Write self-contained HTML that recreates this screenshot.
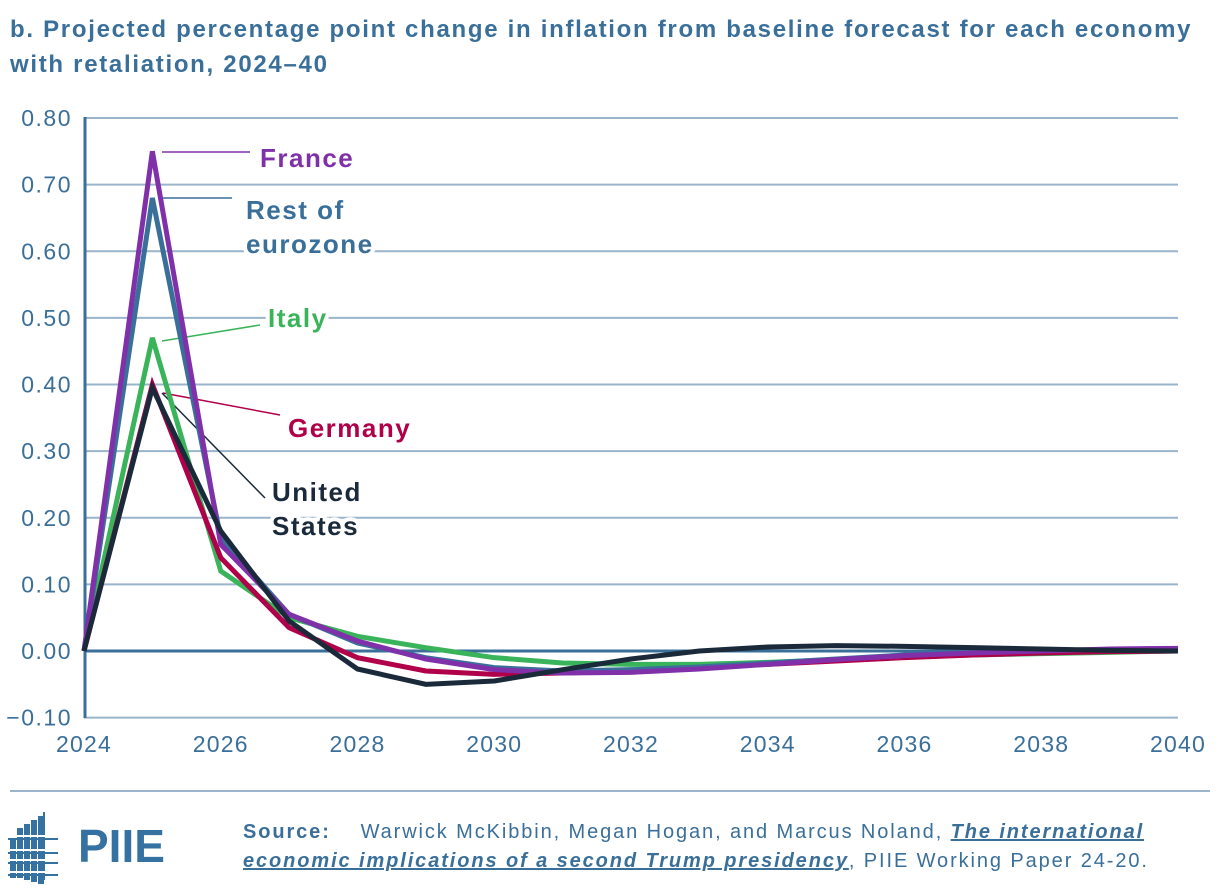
<!DOCTYPE html>
<html><head><meta charset="utf-8"><style>
body{margin:0;background:#fff;width:1220px;height:888px;overflow:hidden;font-family:"Liberation Sans",sans-serif}
#title{position:absolute;left:10px;top:12px;font-size:24px;letter-spacing:1.7px;font-weight:bold;color:#3a6f9a;line-height:35px;white-space:nowrap}
#src{position:absolute;left:243px;top:818px;font-size:20px;letter-spacing:1.9px;color:#3a6f9a;line-height:29px;white-space:nowrap}
</style></head><body>
<div id="title">b. Projected percentage point change in inflation from baseline forecast for each economy<br>with retaliation, 2024–40</div>
<svg id="chart" width="1220" height="888" style="position:absolute;left:0;top:0"></svg>
<div id="src"><b>Source:</b>&nbsp;&nbsp;&nbsp; Warwick McKibbin, Megan Hogan, and Marcus Noland, <i><u><b>The international<br>economic implications of a second Trump presidency</b></u></i>, PIIE Working Paper 24-20.</div>
<script>
const years=[2024,2025,2026,2027,2028,2029,2030,2031,2032,2033,2034,2035,2036,2037,2038,2039,2040];
const yTicks=[-0.1,0,0.1,0.2,0.3,0.4,0.5,0.6,0.7,0.8];
const xTicks=[2024,2026,2028,2030,2032,2034,2036,2038,2040];
const italy=[0,0.47,0.12,0.05,0.022,0.005,-0.01,-0.018,-0.02,-0.02,-0.017,-0.013,-0.009,-0.006,-0.004,-0.002,0];
const germany=[0,0.40,0.14,0.035,-0.01,-0.03,-0.035,-0.033,-0.03,-0.025,-0.02,-0.015,-0.01,-0.006,-0.003,-0.001,0];
const restEuro=[0,0.68,0.17,0.055,0.012,-0.01,-0.025,-0.03,-0.028,-0.024,-0.018,-0.012,-0.006,-0.002,0.001,0.002,0.003];
const france=[0,0.75,0.16,0.055,0.015,-0.012,-0.028,-0.033,-0.032,-0.027,-0.02,-0.013,-0.007,-0.003,0,0.003,0.004];
const us=[0,0.395,0.18,0.045,-0.027,-0.05,-0.045,-0.028,-0.012,0,0.006,0.008,0.007,0.005,0.003,0.001,0];
const NS='http://www.w3.org/2000/svg';const svg=document.getElementById('chart');
const X=y=>84+(y-2024)*(1094/16);const Y=v=>651-v*666.25;
function mk(t,a,p){const e=document.createElementNS(NS,t);for(const k in a)e.setAttribute(k,a[k]);(p||svg).appendChild(e);return e;}
yTicks.forEach(v=>{if(v!==0){const l=mk('line',{x1:84,x2:1178,y1:Y(v),y2:Y(v),stroke:'#9ab4cb','stroke-width':2});

}
const t=mk('text',{x:72,y:Y(v)+8,'text-anchor':'end','font-size':23,'letter-spacing':1.5,fill:'#3a6f9a'});t.textContent=(v<0?'−':'')+Math.abs(v).toFixed(2);

});
xTicks.forEach(y=>{const t=mk('text',{x:X(y),y:752,'text-anchor':'middle','font-size':23,'letter-spacing':1.2,fill:'#3a6f9a'});t.textContent=y;

});
const leaders=[[162,152,250,152,'#8030a8'],[162,198,232,198,'#3a6f9a'],[162,341,260,325,'#3ab45a'],[163,393,280,415,'#b0004a'],[162,393,265,498,'#1a2a3a']];
const series=[[italy,'#3ab45a','line-italy'],[germany,'#b0004a','line-germany'],[restEuro,'#3a6f9a','line-rest-of-eurozone'],[france,'#8030a8','line-france'],[us,'#1a2a3a','line-united-states']];
const labs=[['France',260,167,'#8030a8'],['Rest of',246,219,'#3a6f9a'],['eurozone',246,253,'#3a6f9a'],['Italy',268,327,'#3ab45a'],['Germany',288,437,'#b0004a'],['United',272,501,'#1a2a3a'],['States',272,535,'#1a2a3a']];
labs.forEach(l=>{const t=mk('text',{x:l[1],y:l[2],'font-size':26,'letter-spacing':1.5,'font-weight':'bold',fill:l[3],stroke:'#fff','stroke-width':8,'paint-order':'stroke'});t.textContent=l[0];

});
mk('line',{x1:84,x2:1178,y1:Y(0),y2:Y(0),stroke:'#3a6f9a','stroke-width':3,});
mk('line',{x1:85,x2:85,y1:117,y2:718,stroke:'#3a6f9a','stroke-width':3,});
leaders.forEach(a=>{const l=mk('line',{x1:a[0],y1:a[1],x2:a[2],y2:a[3],stroke:a[4],'stroke-width':1.5});

});
series.forEach(s=>{const p=mk('polyline',{points:s[0].map((v,i)=>X(years[i])+','+Y(v)).join(' '),fill:'none',stroke:s[1],'stroke-width':5,'stroke-linejoin':'miter'});

});
mk('line',{x1:10,x2:1210,y1:791,y2:791,stroke:'#9ab4cb','stroke-width':2,});
const g=mk('g',{});
[[10,848,6,40],[17,838,6,50],[24,834,6,56],[31,830,6,62],[38,826,6,68]].forEach(r=>mk('rect',{x:r[0],y:r[1]-10,width:r[2],height:r[3],fill:'#3572a1'},g));
mk('line',{x1:44,x2:44,y1:812,y2:880,stroke:'#3572a1','stroke-width':2},g);
[[836,838],[850,852],[860,862],[872,874]].forEach(r=>{mk('line',{x1:8,x2:58,y1:r[0],y2:r[0],stroke:'#fff','stroke-width':2},g);mk('line',{x1:8,x2:58,y1:r[0]+3,y2:r[0]+3,stroke:'#3572a1','stroke-width':2},g);});
const pt=mk('text',{x:78,y:862,'font-size':46,'font-weight':'bold',fill:'#3572a1'},g);pt.textContent='PIIE';
</script>
</body></html>
